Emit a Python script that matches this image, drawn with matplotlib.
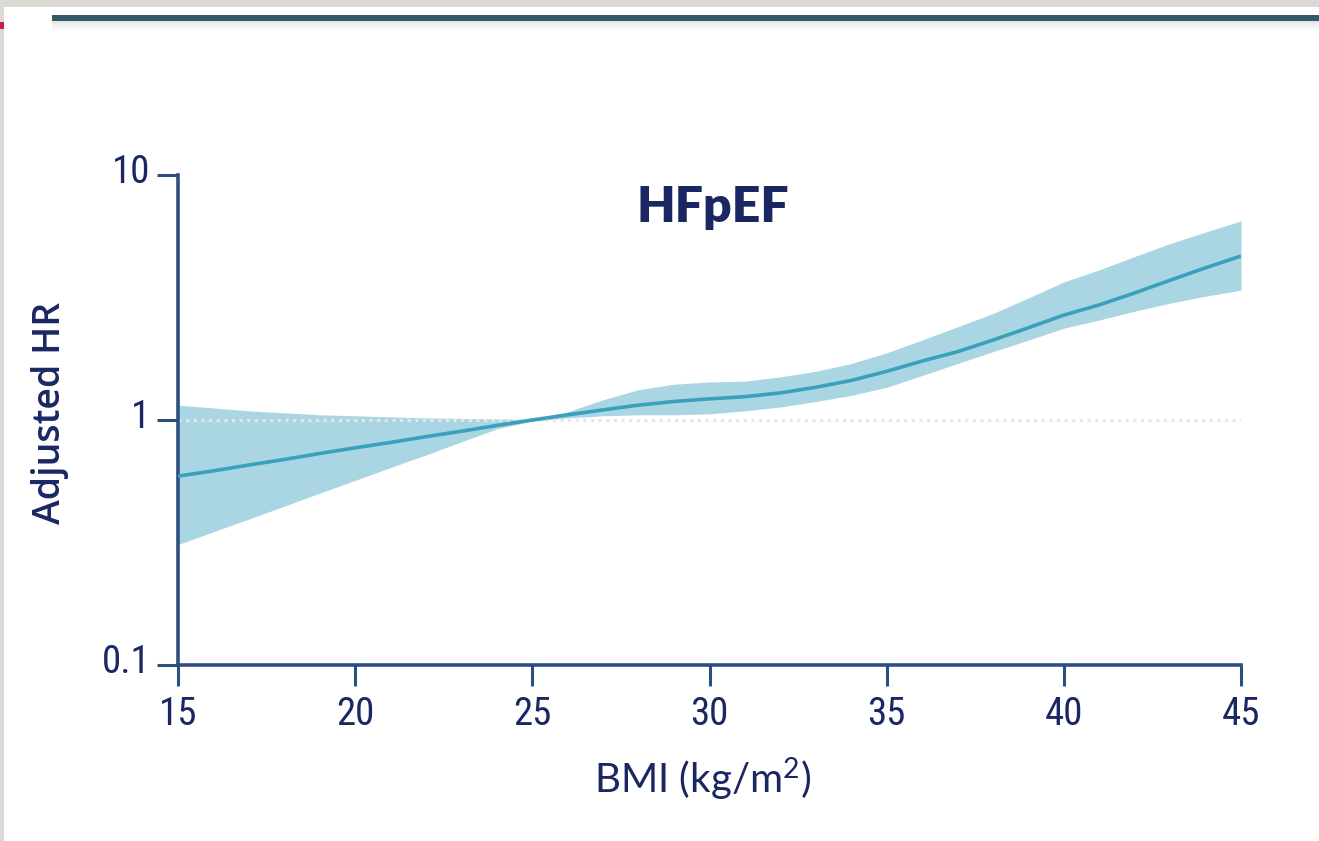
import matplotlib
matplotlib.use("Agg")
import matplotlib.pyplot as plt
from matplotlib.patches import Rectangle
from matplotlib.transforms import ScaledTranslation
from matplotlib.ticker import FixedLocator, NullLocator, FixedFormatter

# ---- data ----
bmi = [15, 16, 17, 18, 19, 20, 21, 22, 23, 24, 25, 26, 27, 28, 29, 30,
       31, 32, 33, 34, 35, 36, 37, 38, 39, 40, 41, 42, 43, 44, 45]
hr_center = [0.59, 0.62, 0.655, 0.69, 0.73, 0.77, 0.81, 0.855, 0.90, 0.95, 1.00,
             1.05, 1.10, 1.15, 1.19, 1.22, 1.245, 1.29, 1.36, 1.45, 1.58,
             1.74, 1.90, 2.12, 2.38, 2.68, 2.95, 3.30, 3.72, 4.18, 4.67]
hr_upper = [1.15, 1.12, 1.09, 1.07, 1.05, 1.04, 1.03, 1.02, 1.015, 1.01, 1.005,
            1.08, 1.21, 1.33, 1.40, 1.43, 1.44, 1.50, 1.58, 1.70, 1.88,
            2.12, 2.40, 2.72, 3.15, 3.66, 4.10, 4.65, 5.25, 5.85, 6.50]
hr_lower = [0.31, 0.35, 0.394, 0.445, 0.503, 0.567, 0.64, 0.72, 0.815, 0.92, 0.99,
            1.02, 1.04, 1.05, 1.05, 1.06, 1.09, 1.13, 1.19, 1.26, 1.36,
            1.52, 1.70, 1.90, 2.12, 2.37, 2.56, 2.78, 3.00, 3.20, 3.39]
x_ticks = [15, 20, 25, 30, 35, 40, 45]
y_ticks = [0.1, 1, 10]
y_tick_labels = ["0.1", "1", "10"]
title = "HFpEF"
x_label = r"BMI (kg/m$^{2}$)"
y_label = "Adjusted HR"

W, H = 1319, 841
plt.rcParams['mathtext.fontset'] = 'custom'
plt.rcParams['mathtext.rm'] = 'Lato'
plt.rcParams['mathtext.it'] = 'Lato'

fig = plt.figure(figsize=(W / 100, H / 100), dpi=100)
fig.patch.set_facecolor("white")

# slide decoration
grey = "#dcd9d4"
fig.patches.append(Rectangle((0, 1 - 7 / H), 1, 7 / H, transform=fig.transFigure,
                             facecolor=grey, edgecolor="none", zorder=0))
fig.patches.append(Rectangle((0, 0), 4 / W, 1, transform=fig.transFigure,
                             facecolor=grey, edgecolor="none", zorder=0))
for i, a in enumerate([0.10, 0.07, 0.05, 0.03, 0.02]):
    fig.patches.append(Rectangle((52 / W, 1 - (23 + 2 * i) / H), 1 - 52 / W, 2 / H,
                                 transform=fig.transFigure, facecolor="black",
                                 alpha=a, edgecolor="none", zorder=1))
fig.patches.append(Rectangle((52 / W, 1 - 21 / H), 1 - 52 / W, 6 / H,
                             transform=fig.transFigure, facecolor="#2f5a66",
                             edgecolor="none", zorder=2))
fig.patches.append(Rectangle((0, 1 - 29 / H), 4 / W, 7 / H, transform=fig.transFigure,
                             facecolor="#c41e4a", edgecolor="none", zorder=2))

ax = fig.add_axes([178 / W, 1 - 665 / H, (1241 - 178) / W, (665 - 175) / H])
ax.set_facecolor("none")

band_col = "#aad6e3"
line_col = "#3ba0bb"
spine_col = "#2d4f7f"
text_col = "#1a2763"

ax.fill_between(bmi, hr_lower, hr_upper, color=band_col, linewidth=0, zorder=1)
ax.axhline(1, color="#e6e6e6", linewidth=2.2, linestyle=(0, (1, 1.5)), zorder=2)
ax.plot(bmi, hr_center, color=line_col, linewidth=2.6, zorder=3, solid_capstyle="butt")

ax.set_yscale("log")
ax.set_xlim(15, 45)
ax.set_ylim(0.1, 10)
ax.xaxis.set_major_locator(FixedLocator(x_ticks))
ax.yaxis.set_major_locator(FixedLocator(y_ticks))
ax.yaxis.set_major_formatter(FixedFormatter(y_tick_labels))
ax.yaxis.set_minor_locator(NullLocator())
ax.xaxis.set_minor_locator(NullLocator())

for s in ["top", "right"]:
    ax.spines[s].set_visible(False)
for s in ["left", "bottom"]:
    ax.spines[s].set_color(spine_col)
    ax.spines[s].set_linewidth(2.6)
ax.tick_params(axis="both", which="major", length=15, width=2.2, color=spine_col,
               labelcolor=text_col, labelsize=28)
ax.tick_params(axis="x", pad=7)
ax.tick_params(axis="y", pad=5)

tick_font = ["Roboto Condensed", "Lato"]
for lab in ax.get_xticklabels():
    lab.set_family(tick_font)
for lab in ax.get_yticklabels():
    lab.set_family(tick_font)
    lab.set_transform(lab.get_transform() + ScaledTranslation(0, 6 / 100, fig.dpi_scale_trans))

ax.text(0.503, (665 - 222) / 490, title, transform=ax.transAxes, ha="center",
        va="baseline", fontsize=36, fontweight="heavy", family="Lato", color=text_col)

fig.text(703 / W, 1 - 793 / H, x_label, ha="center", va="baseline", fontsize=29,
         family="Lato", color=text_col)
fig.text(50 / W, 1 - 413 / H, y_label, ha="center", va="center", rotation=90,
         fontsize=27, fontweight="semibold", family="Open Sans", color=text_col)

fig.savefig("out.png", dpi=100, facecolor=fig.get_facecolor())
